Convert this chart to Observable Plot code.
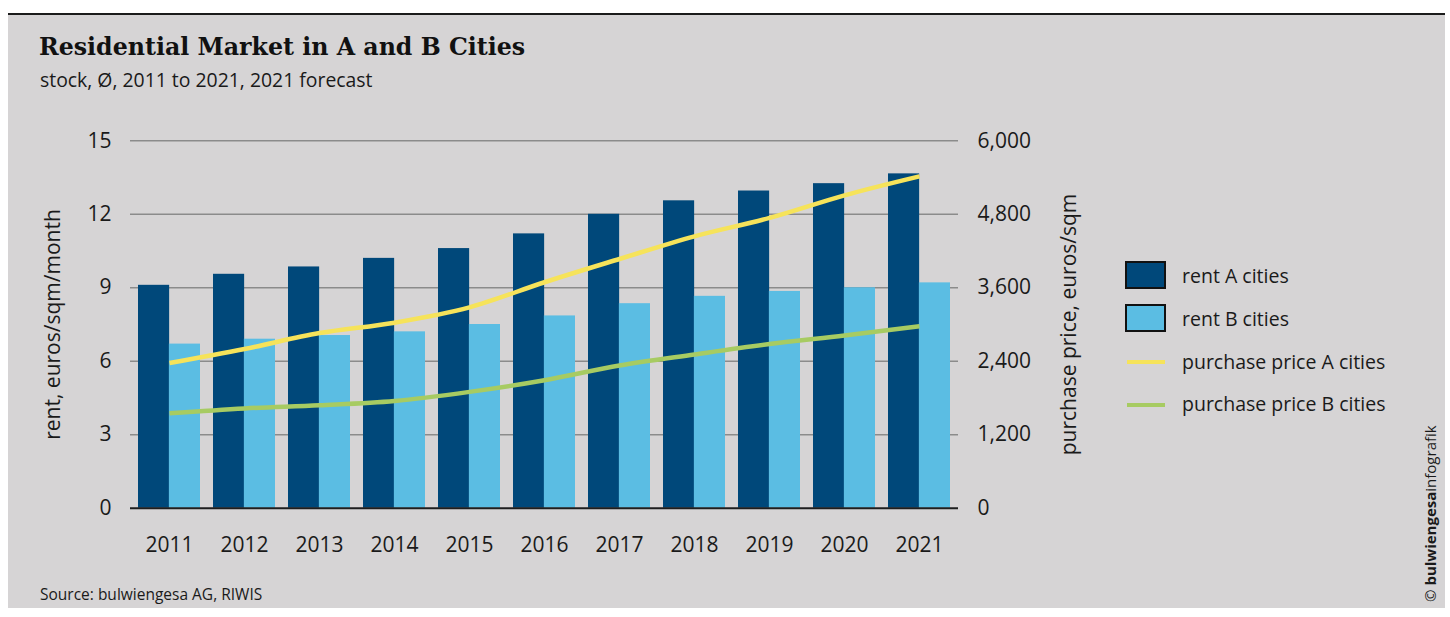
<!DOCTYPE html>
<html>
<head>
<meta charset="utf-8">
<script src="https://cdn.jsdelivr.net/npm/d3@7"></script>
<script src="https://cdn.jsdelivr.net/npm/@observablehq/plot@0.6"></script>
<style>
  html, body { margin: 0; padding: 0; background: #ffffff; }
  body { width: 1450px; height: 617px; position: relative; overflow: hidden; font-family: "Open Sans", sans-serif; color: #1a1a1a; }
  #card { position: absolute; left: 8px; top: 13px; width: 1437px; height: 595px; background: #d6d4d5; border-top: 2px solid #1b1b1b; box-sizing: border-box; }
  .abs { position: absolute; white-space: nowrap; line-height: 1; }
  #title { left: 39px; top: 35.5px; font-family: "DejaVu Serif", serif; font-weight: bold; font-size: 23.7px; color: #111; }
  #subtitle { left: 40px; top: 69.5px; font-size: 19.4px; }
  #source { left: 40px; top: 587px; font-size: 15.5px; }
  #chart { position: absolute; left: 0; top: 100px; }
  .sw { position: absolute; left: 1125px; width: 41px; height: 28px; box-sizing: border-box; border: 2px solid #111; }
  .ln { position: absolute; left: 1127px; width: 38px; height: 4.5px; }
  .lt { position: absolute; left: 1182px; font-size: 19.5px; line-height: 1; white-space: nowrap; }
  #copy { position: absolute; left: 1422.5px; top: 602px; font-size: 15px; line-height: 1; white-space: nowrap; transform: rotate(-90deg); transform-origin: left top; color: #1a1a1a; }
</style>
</head>
<body>
<div id="card"></div>
<div id="title" class="abs">Residential Market in A and B Cities</div>
<div id="subtitle" class="abs">stock, Ø, 2011 to 2021, 2021 forecast</div>
<div id="chart"></div>
<div id="legend"></div>
<div id="source" class="abs">Source: bulwiengesa AG, RIWIS</div>
<div id="copy">© <b>bulwiengesa</b>infografik</div>
<script>
// ---- data ----
const years = [2011, 2012, 2013, 2014, 2015, 2016, 2017, 2018, 2019, 2020, 2021];
const rentA = [9.1, 9.55, 9.85, 10.2, 10.6, 11.2, 12.0, 12.55, 12.95, 13.25, 13.65];
const rentB = [6.7, 6.9, 7.05, 7.2, 7.5, 7.85, 8.35, 8.65, 8.85, 9.0, 9.2];
const priceA = [2370, 2600, 2860, 3030, 3280, 3690, 4070, 4440, 4740, 5110, 5420];
const priceB = [1550, 1630, 1680, 1750, 1900, 2090, 2330, 2510, 2680, 2820, 2970];
const rentTicks = [0, 3, 6, 9, 12, 15];
const priceTicks = [0, 1200, 2400, 3600, 4800, 6000];
const seriesNames = ["rent A cities", "rent B cities", "purchase price A cities", "purchase price B cities"];
const colors = ["#00487a", "#5bbde3", "#f6e35a", "#a7cb62"];

// secondary axis ratio from the tick arrays
const ratio = rentTicks[rentTicks.length - 1] / priceTicks[priceTicks.length - 1];

// layout
const W = 1450, H = 470;
const mL = 130, mR = 492, mT = 40.3, mB = 62.3;
const padIn = 0.18, padOut = 0.09;
const step = (W - mL - mR) / (years.length - padIn + 2 * padOut);
const bw = step * (1 - padIn);

const fmt = d3.format(",");

const chart = Plot.plot({
  width: W,
  height: H,
  marginLeft: mL,
  marginRight: mR,
  marginTop: mT,
  marginBottom: mB,
  style: { background: "transparent", fontFamily: "'Open Sans', sans-serif", fontSize: "21px", color: "#1a1a1a" },
  x: { type: "band", domain: years, paddingInner: padIn, paddingOuter: padOut },
  y: { domain: [rentTicks[0], rentTicks[rentTicks.length - 1]] },
  marks: [
    Plot.gridY(rentTicks.filter(d => d > 0), { stroke: "#8b8b8b", strokeOpacity: 1, strokeWidth: 1.6 }),
    Plot.barY(years, { x: d => d, y: (d, i) => rentA[i], fill: colors[0], insetRight: bw / 2 }),
    Plot.barY(years, { x: d => d, y: (d, i) => rentB[i], fill: colors[1], insetLeft: bw / 2 }),
    Plot.line(years, { x: d => d, y: (d, i) => priceA[i] * ratio, stroke: colors[2], strokeWidth: 4.5, curve: "monotone-x", strokeLinecap: "butt" }),
    Plot.line(years, { x: d => d, y: (d, i) => priceB[i] * ratio, stroke: colors[3], strokeWidth: 4.5, curve: "monotone-x", strokeLinecap: "butt" }),
    Plot.ruleY([0], { stroke: "#1e1e1e", strokeWidth: 2 }),
    Plot.axisX({ tickSize: 0, tickPadding: 29, tickFormat: d => String(d), label: null, fill: "#1a1a1a" }),
    Plot.axisY({ anchor: "left", ticks: rentTicks, tickSize: 0, tickPadding: 19, label: "rent, euros/sqm/month", labelAnchor: "center", labelArrow: "none", labelOffset: 85, fill: "#1a1a1a" }),
    Plot.axisY({ anchor: "right", ticks: rentTicks, tickSize: 0, tickPadding: 19, tickFormat: d => fmt(priceTicks[rentTicks.indexOf(d)]), label: "purchase price, euros/sqm", labelAnchor: "center", labelArrow: "none", labelOffset: 117, fill: "#1a1a1a" })
  ]
});
document.getElementById("chart").appendChild(chart);

// legend
const legend = document.getElementById("legend");
const swTops = [261, 303.5];
const lnTops = [359.8, 402.5];
const textTops = [266.4, 309, 351.7, 394.4];
seriesNames.forEach((name, i) => {
  const el = document.createElement("div");
  if (i < 2) {
    el.className = "sw";
    el.style.top = swTops[i] + "px";
  } else {
    el.className = "ln";
    el.style.top = lnTops[i - 2] + "px";
  }
  el.style.background = colors[i];
  legend.appendChild(el);
  const t = document.createElement("div");
  t.className = "lt";
  t.style.top = textTops[i] + "px";
  t.textContent = name;
  legend.appendChild(t);
});
</script>
</body>
</html>
